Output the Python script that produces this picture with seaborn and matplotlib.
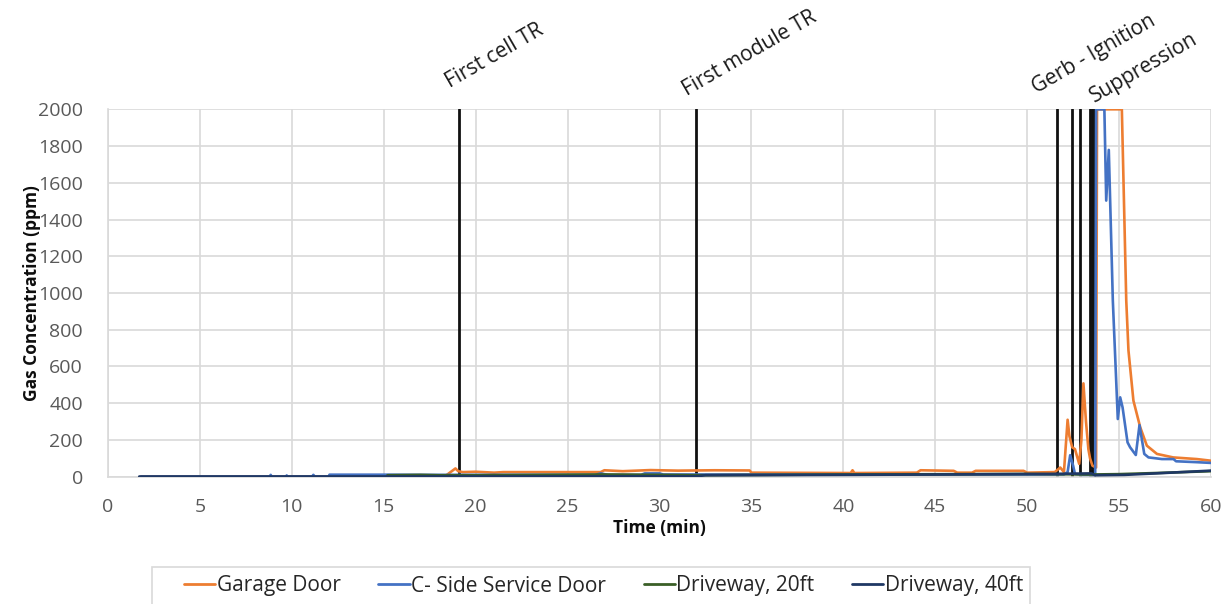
import matplotlib
matplotlib.use("Agg")
import matplotlib.pyplot as plt
import pandas as pd
import seaborn as sns
from matplotlib.patches import Rectangle

# ---- data ----
garage_t = [1.8, 18.3, 18.5, 18.9, 19.05, 19.3, 20.0, 21.0, 21.5, 26.8, 27.0, 28.0, 29.5, 31.0, 33.0,
            34.9, 35.0, 40.4, 40.5, 40.6, 44.0, 44.2, 46.0, 46.2, 47.0, 47.2, 49.8, 50.0, 51.5,
            51.8, 52.0, 52.2, 52.3, 52.45, 52.6, 52.83, 52.95, 53.06, 53.2, 53.33, 53.42, 53.55,
            53.75, 53.8, 55.15, 55.39, 55.51, 55.78, 56.15, 56.51, 57.06, 57.94, 59.23, 60.0]
garage_v = [0, 0, 15, 45, 30, 25, 27, 22, 25, 25, 35, 30, 36, 33, 35,
            34, 22, 20, 35, 20, 22, 35, 32, 22, 22, 32, 32, 22, 25,
            50, 25, 310, 220, 160, 150, 70, 200, 508, 300, 150, 100, 60,
            50, 2000, 2000, 959, 687, 414, 269, 169, 124, 105, 96, 87]

side_t = [1.8, 8.8, 8.85, 8.9, 9.7, 9.72, 9.75, 11.1, 11.17, 11.25, 12.0, 12.05, 15.2, 17.0,
          26.5, 26.8, 27.2, 29.0, 29.2, 30.0, 30.2, 52.0, 52.2, 52.34, 52.5, 52.6, 53.0, 53.7,
          53.75, 54.2, 54.3, 54.44, 54.66, 54.93, 55.06, 55.19, 55.46, 55.6, 55.91, 56.11,
          56.37, 56.6, 57.33, 57.96, 58.1, 59.23, 60.0]
side_v = [0, 0, 10, 0, 0, 7, 0, 0, 10, 0, 0, 11, 11, 10,
          10, 18, 10, 10, 18, 18, 12, 12, 25, 117, 60, 15, 10, 10,
          2000, 2000, 1503, 1779, 958, 314, 432, 377, 187, 160, 118, 281,
          124, 105, 96, 96, 84, 79, 75]

drive20_t = [15.2, 17.0, 18.0, 20.0, 27.0, 30.0, 32.0, 40.0, 50.0, 53.5, 55.0, 57.0, 60.0]
drive20_v = [8, 10, 8, 8, 12, 10, 8, 12, 15, 12, 14, 20, 30]

drive40_t = [1.7, 32.0, 32.5, 40.0, 45.0, 51.3, 53.5, 53.7, 55.3, 57.0, 60.0]
drive40_v = [1, 2, 8, 10, 12, 15, 18, 8, 10, 18, 33]

series_names = ["Garage Door", "C- Side Service Door", "Driveway, 20ft", "Driveway, 40ft"]
series_colors = ["#ED7D31", "#4472C4", "#3A5F27", "#1F3864"]

event_times = [19.1, 32.0, 51.65, 52.43, 52.85, 53.43, 53.55, 53.65]
event_labels = [("First cell TR", 18.62, 2115), ("First module TR", 31.5, 2075),
                ("Gerb - Ignition", 50.53, 2087), ("Suppression", 53.65, 2038)]

x_ticks = list(range(0, 61, 5))
y_ticks = list(range(0, 2001, 200))


def main() -> None:
    sns.set_theme(style="whitegrid")
    plt.rcParams["font.family"] = ["Open Sans", "DejaVu Sans"]

    frames = []
    for name, t, v in zip(series_names, [garage_t, side_t, drive20_t, drive40_t],
                          [garage_v, side_v, drive20_v, drive40_v]):
        frames.append(pd.DataFrame({"time": t, "conc": v, "series": name}))
    df = pd.concat(frames, ignore_index=True)

    W, H = 1231, 604
    fig = plt.figure(figsize=(W / 100, H / 100), dpi=100)
    ax = fig.add_axes([108 / W, 1 - 476.7 / H, 1103 / W, 367.4 / H])

    for t in event_times:
        ax.axvline(t, color="#111111", lw=2.0, zorder=2)

    sns.lineplot(data=df, x="time", y="conc", hue="series", hue_order=series_names,
                 palette=dict(zip(series_names, series_colors)), estimator=None,
                 sort=False, linewidth=1.9, ax=ax, legend=False, zorder=3)

    for text, x, y in event_labels:
        ax.text(x, y, text, rotation=30, rotation_mode="anchor", ha="left", va="baseline",
                fontsize=15, color="#1a1a1a", clip_on=False)

    ax.set_xlim(0, 60)
    ax.set_ylim(0, 2000)
    ax.set_xticks(x_ticks)
    ax.set_yticks(y_ticks)
    ax.grid(True, color="#D9D9D9", linewidth=1.2)
    ax.tick_params(axis="both", length=0, labelsize=14, labelcolor="#595959")
    ax.tick_params(axis="x", pad=15)
    ax.tick_params(axis="y", pad=18)
    for side in ["top", "right"]:
        ax.spines[side].set_visible(False)
    for side in ["left", "bottom"]:
        ax.spines[side].set_color("#D9D9D9")
        ax.spines[side].set_linewidth(1.2)
    ax.set_xlabel("Time (min)", fontsize=12.5, fontweight="bold", color="#0d0d0d")
    ax.set_ylabel("Gas Concentration (ppm)", fontsize=12.5, fontweight="bold", color="#0d0d0d")
    ax.xaxis.set_label_coords(0.5, -(519 - 476.7) / 367.4)
    ax.yaxis.set_label_coords((41 - 108) / 1103, 0.5)

    # legend box (partly cut by the figure edge, as in the reference)
    fig.patches.append(Rectangle((152 / W, -0.02), (1030 - 152) / W, 0.02 + 1 - 567 / H,
                                 transform=fig.transFigure, facecolor="white",
                                 edgecolor="#D9D9D9", linewidth=1.2))
    handles = [plt.Line2D([], [], color=c, lw=2) for c in series_colors]
    leg = fig.legend(handles, series_names, loc="center left",
                     bbox_to_anchor=(184 / W, 1 - 586 / H), ncol=4, frameon=False,
                     fontsize=15, handlelength=1.5, handletextpad=0.08, columnspacing=1.8,
                     borderpad=0, borderaxespad=0)
    for txt in leg.get_texts():
        txt.set_color("#262626")

    fig.savefig("out.png", dpi=100)
    plt.close(fig)


if __name__ == "__main__":
    main()
